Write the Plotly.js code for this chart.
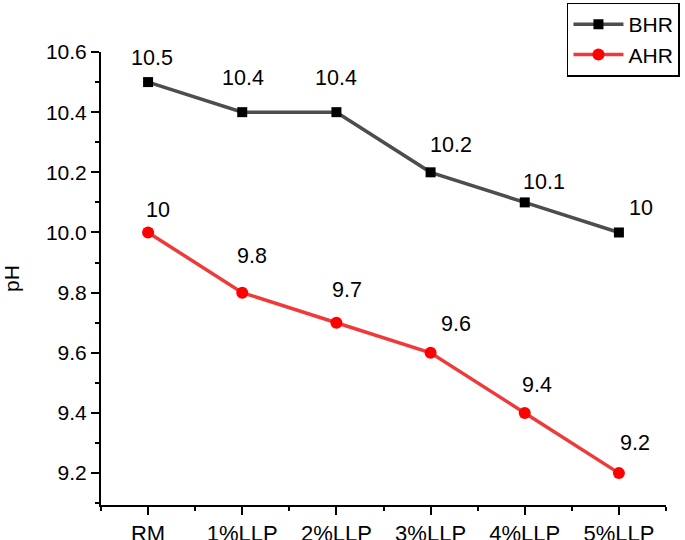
<!DOCTYPE html>
<html><head><meta charset="utf-8">
<script src="https://cdn.plot.ly/plotly-3.0.1.min.js"></script>
<style>html,body{margin:0;padding:0;background:#fff}#chart{width:685px;height:540px}</style>
</head><body><div id="chart"></div>
<script>
const categories = ["RM", "1%LLP", "2%LLP", "3%LLP", "4%LLP", "5%LLP"];
const bhr = [10.5, 10.4, 10.4, 10.2, 10.1, 10.0];
const ahr = [10.0, 9.8, 9.7, 9.6, 9.4, 9.2];
const bhrLabels = ["10.5", "10.4", "10.4", "10.2", "10.1", "10"];
const ahrLabels = ["10", "9.8", "9.7", "9.6", "9.4", "9.2"];

const bhrShift = [[4,24],[1,34],[0,34],[20,27],[19,20],[22,24]];
const ahrShift = [[10,22],[10,37],[11,33],[25,29],[12,28],[16,30]];

const xs = categories.map((_, i) => i);
const FONT = "Liberation Sans, Arial, sans-serif";

const traces = [
  {x: xs, y: bhr, name: "BHR", mode: "lines+markers", type: "scatter",
   line: {color: "#4d4d4d", width: 3.5},
   marker: {symbol: "square", size: 10, color: "#000000"}},
  {x: xs, y: ahr, name: "AHR", mode: "lines+markers", type: "scatter",
   line: {color: "#f03a3a", width: 3.5},
   marker: {symbol: "circle", size: 12, color: "#ff0000"}}
];

const annotations = [];
bhr.forEach((v, i) => annotations.push({x: xs[i], y: v, xref: "x", yref: "y", text: bhrLabels[i], showarrow: false,
  xshift: bhrShift[i][0], yshift: bhrShift[i][1], font: {family: FONT, size: 21.5, color: "#000"}}));
ahr.forEach((v, i) => annotations.push({x: xs[i], y: v, xref: "x", yref: "y", text: ahrLabels[i], showarrow: false,
  xshift: ahrShift[i][0], yshift: ahrShift[i][1], font: {family: FONT, size: 21.5, color: "#000"}}));

const layout = {
  width: 685, height: 540,
  margin: {l: 101, r: 19, t: 52, b: 35, autoexpand: false},
  paper_bgcolor: "#fff", plot_bgcolor: "#fff",
  font: {family: FONT, size: 20, color: "#000"},
  showlegend: true,
  legend: {x: 1.0247, y: 1.109, xanchor: "right", yanchor: "top", xref: "paper", yref: "paper",
    bordercolor: "#000", borderwidth: 1.5, bgcolor: "#fff",
    font: {family: FONT, size: 21, color: "#000"}, itemwidth: 50, tracegroupgap: 0},
  xaxis: {
    range: [-0.5, 5.5], tickvals: xs, ticktext: categories, automargin: false,
    showgrid: false, zeroline: false, showline: true, linecolor: "#000", linewidth: 2,
    ticks: "outside", ticklen: 8, tickwidth: 2, tickcolor: "#000",
    minor: {ticks: "outside", ticklen: 4, tickwidth: 2, tickcolor: "#000", tick0: -0.5, dtick: 0.5, showgrid: false},
    tickfont: {family: FONT, size: 22, color: "#000"}
  },
  yaxis: {
    range: [9.094, 10.6], tick0: 9.2, dtick: 0.2, tickformat: ".1f", automargin: false,
    showgrid: false, zeroline: false, showline: true, linecolor: "#000", linewidth: 2,
    ticks: "outside", ticklen: 8, tickwidth: 2, tickcolor: "#000",
    minor: {ticks: "outside", ticklen: 4, tickwidth: 2, tickcolor: "#000", dtick: 0.1, showgrid: false},
    tickfont: {family: FONT, size: 21, color: "#000"},
    title: {text: "pH", font: {family: FONT, size: 21, color: "#000"}, standoff: 26}
  },
  annotations: annotations
};

Plotly.newPlot("chart", traces, layout, {displayModeBar: false, staticPlot: true});
</script></body></html>
